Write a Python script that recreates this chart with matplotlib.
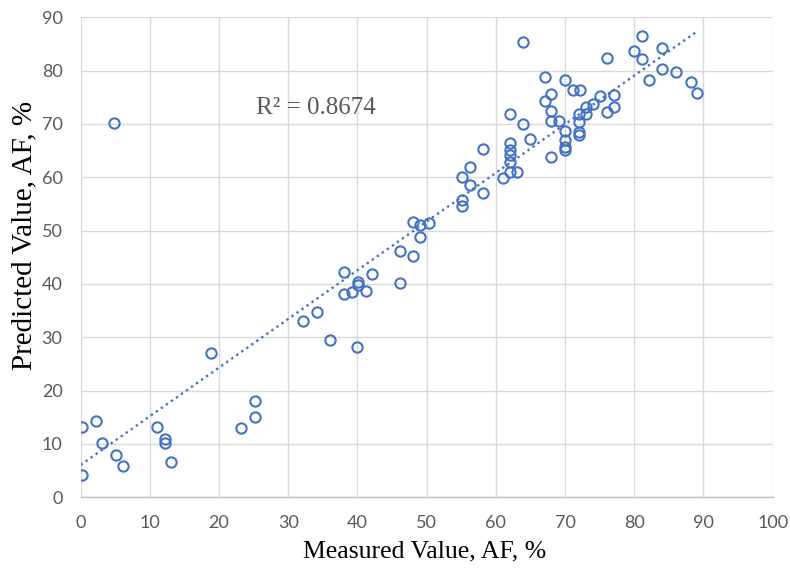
import numpy as np
import matplotlib
matplotlib.use("Agg")
import matplotlib.pyplot as plt
from matplotlib import font_manager

measured = [0.2, 0.2, 2.2, 3.1, 5.1, 6.2, 4.9, 11.1, 12.2, 12.2, 13.1, 18.9, 23.2, 25.2, 25.2,
            32.1, 34.2, 36.1, 38.1, 38.1, 39.2, 40.1, 40.1, 41.2, 42.1, 40.0, 46.2, 46.2, 48.1, 49.1,
            48.0, 49.1, 50.3,
            55.1, 55.1, 58.1, 56.2, 55.1, 56.2, 58.1, 61.1,
            64.0, 67.1, 70.0, 62.0, 64.0, 68.0, 67.1, 68.0, 68.0, 69.1, 71.2, 72.1, 70.0, 70.0,
            70.0, 70.0, 72.0, 72.0, 72.0, 72.0, 73.1, 73.1, 74.1, 75.1, 77.1, 77.1, 76.0, 76.0,
            62.0, 62.0, 62.0, 62.0, 62.0, 63.0, 65.0, 68.0, 80.0, 81.1, 81.1, 84.0, 84.0, 82.1,
            86.0, 88.2, 89.1]
predicted = [13.2, 4.1, 14.3, 10.2, 7.9, 5.9, 70.2, 13.1, 10.9, 10.1, 6.6, 27.0, 12.9, 18.1, 15.0,
             33.0, 34.8, 29.4, 42.2, 38.1, 38.4, 40.3, 39.8, 38.6, 41.8, 28.1, 40.2, 46.2, 45.2, 48.8,
             51.6, 51.1, 51.4,
             54.6, 55.8, 57.0, 58.6, 60.1, 61.9, 65.2, 59.8,
             85.4, 78.8, 78.3, 71.9, 69.9, 75.6, 74.2, 72.5, 70.6, 70.6, 76.3, 76.3, 68.7, 67.0,
             65.7, 65.1, 71.9, 70.4, 68.0, 68.4, 73.2, 71.9, 73.8, 75.3, 75.5, 73.2, 72.2, 82.4,
             66.5, 65.1, 64.1, 62.9, 60.9, 60.9, 67.1, 63.7, 83.7, 86.5, 82.2, 84.3, 80.3, 78.3,
             79.7, 77.8, 75.8]
x_ticks = list(range(0, 101, 10))
y_ticks = list(range(0, 91, 10))
r2_label = "R\u00b2 = 0.8674"
x_title = "Measured Value, AF, %"
y_title = "Predicted Value, AF, %"

avail = {f.name for f in font_manager.fontManager.ttflist}
tick_font = "Lato" if "Lato" in avail else "DejaVu Sans"
serif = "Liberation Serif"

blue = "#4472C4"
grid_c = "#D9D9D9"
txt_c = "#595959"

fig = plt.figure(figsize=(7.9, 5.72), dpi=100)
ax = fig.add_axes([0.102, 0.1306, 0.876, 0.8394])

x = np.array(measured)
y = np.array(predicted)
ax.plot(x, y, linestyle="none", marker="o", markersize=7.4, markerfacecolor="none",
        markeredgecolor=blue, markeredgewidth=1.5, zorder=3)

k, b = np.polyfit(x, y, 1)
xl = np.array([0, x.max()])
ax.plot(xl, k * xl + b, color=blue, linestyle=(0, (1, 1.6)), linewidth=1.7, zorder=2)

ax.set_xlim(0, 100)
ax.set_ylim(0, 90)
ax.set_xticks(x_ticks)
ax.set_yticks(y_ticks)
ax.grid(True, color=grid_c, linewidth=1.0, zorder=0)
ax.set_axisbelow(True)
for s in ["top", "right", "left"]:
    ax.spines[s].set_visible(False)
ax.spines["bottom"].set_color("#BFBFBF")
ax.spines["bottom"].set_linewidth(1.0)
ax.tick_params(length=0, colors=txt_c, labelsize=13)
ax.tick_params(axis="x", pad=13)
ax.tick_params(axis="y", pad=13)
for lab in ax.get_xticklabels() + ax.get_yticklabels():
    lab.set_fontfamily(tick_font)
    lab.set_color(txt_c)

ax.set_xlabel(x_title, fontfamily=serif, fontsize=18.5, color="#000000")
ax.xaxis.set_label_coords(0.4965, -0.089)
ax.set_ylabel(y_title, fontfamily=serif, fontsize=21, color="#000000")
ax.yaxis.set_label_coords(-0.062, 0.546)
ax.text(25.3, 73, r2_label, fontfamily=serif, fontsize=18, color=txt_c, va="center", ha="left")

fig.savefig("out.png", dpi=100)
